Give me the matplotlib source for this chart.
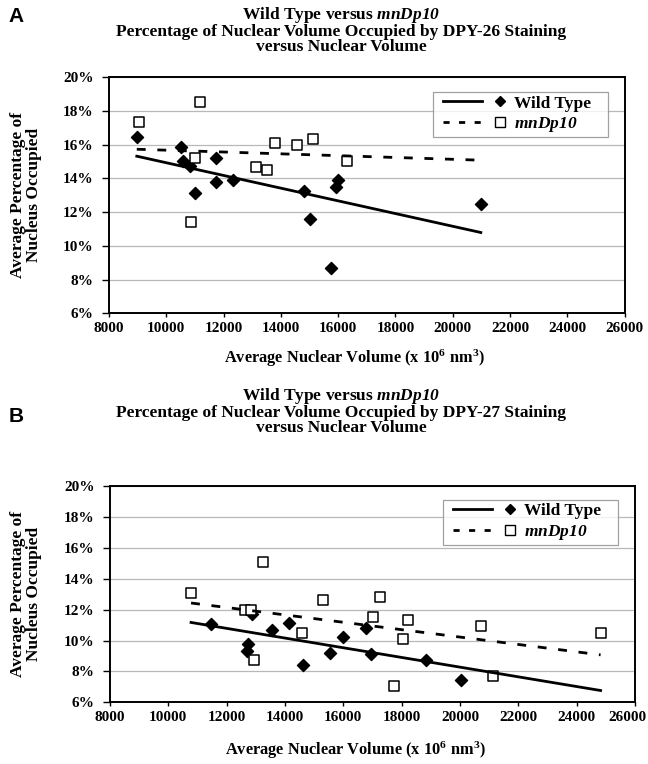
import numpy as np
import matplotlib
matplotlib.use("Agg")
import matplotlib.pyplot as plt
from matplotlib.lines import Line2D
from matplotlib.legend_handler import HandlerLine2D
from matplotlib.ticker import FuncFormatter, MultipleLocator
from matplotlib.transforms import ScaledTranslation

plt.rcParams["font.family"] = ["Liberation Serif", "DejaVu Serif"]
plt.rcParams["font.weight"] = "bold"
plt.rcParams["axes.labelweight"] = "bold"
plt.rcParams["mathtext.fontset"] = "custom"
plt.rcParams["mathtext.rm"] = "Liberation Serif:bold"
plt.rcParams["mathtext.it"] = "Liberation Serif:italic:bold"
plt.rcParams["mathtext.bf"] = "Liberation Serif:bold"
# \mathsf is used for the strain name so that its digits stay italic too
plt.rcParams["mathtext.sf"] = "Liberation Serif:italic:bold"

# ---- Panel A: DPY-26 staining ----
a_wt_volume = [8970, 10500, 10580, 10830, 11000, 11750, 11750, 12330,
               14810, 15000, 15740, 15930, 16010, 20980]
a_wt_percent = [16.45, 15.85, 15.0, 14.75, 13.1, 15.2, 13.8, 13.9,
                13.25, 11.6, 8.7, 13.5, 13.9, 12.5]
a_dp_volume = [9030, 11180, 11010, 10870, 13120, 13530, 13800, 14580,
               15130, 16320]
a_dp_percent = [17.35, 18.5, 15.2, 11.4, 14.65, 14.5, 16.1, 16.0,
                16.35, 15.05]

# ---- Panel B: DPY-27 staining ----
b_wt_volume = [11455, 12727, 12692, 12884, 13557, 14129, 14610, 15526,
               15984, 16790, 16961, 18834, 20036]
b_wt_percent = [11.1, 9.8, 9.3, 11.7, 10.65, 11.15, 8.4, 9.2,
                10.2, 10.8, 9.1, 8.75, 7.45]
b_dp_volume = [10779, 13234, 12631, 12837, 12940, 14598, 15297, 17272,
               17008, 18209, 18038, 17729, 20710, 21140, 24820]
b_dp_percent = [13.1, 15.05, 11.95, 12.0, 8.75, 10.5, 12.6, 12.8,
                11.55, 11.35, 10.1, 7.05, 10.95, 7.7, 10.5]

series_labels = ["Wild Type   ", r"$\mathsf{mnDp10}$"]
x_ticks = list(range(8000, 26001, 2000))
y_range = (6, 20)


class HandlerLineThenMarker(HandlerLine2D):
    """Legend key: a line segment followed by the marker on its right."""

    def create_artists(self, legend, orig_handle, xdescent, ydescent,
                       width, height, fontsize, trans):
        y = height / 2.0 - ydescent
        seg = Line2D([-xdescent + 0.10 * width, -xdescent + 0.68 * width],
                     [y, y])
        self.update_prop(seg, orig_handle, legend)
        seg.set_marker("None")
        mk = Line2D([-xdescent + 0.94 * width], [y])
        self.update_prop(mk, orig_handle, legend)
        mk.set_linestyle("None")
        seg.set_transform(trans)
        mk.set_transform(trans)
        return [seg, mk]


def draw_panel(ax, wt_x, wt_y, dp_x, dp_y):
    wt_x, wt_y = np.asarray(wt_x, float), np.asarray(wt_y, float)
    dp_x, dp_y = np.asarray(dp_x, float), np.asarray(dp_y, float)
    lo = min(wt_x.min(), dp_x.min())
    hi = max(wt_x.max(), dp_x.max())
    xs = np.array([lo, hi])

    ax.scatter(wt_x, wt_y, marker="D", s=38, color="black", zorder=3)
    ax.scatter(dp_x, dp_y, marker="s", s=46, facecolor="white",
               edgecolor="black", linewidth=1.1, zorder=4)

    # least-squares trend lines over the shared volume range
    k1, b1 = np.polyfit(wt_x, wt_y, 1)
    k2, b2 = np.polyfit(dp_x, dp_y, 1)
    ax.plot(xs, k1 * xs + b1, color="black", lw=2.0, zorder=5)
    ax.plot(xs, k2 * xs + b2, color="black", lw=2.0,
            dashes=(3.2, 4.2), zorder=5)

    ax.set_xlim(8000, 26000)
    ax.set_ylim(*y_range)
    ax.set_xticks(x_ticks)
    ax.yaxis.set_major_locator(MultipleLocator(2))
    ax.yaxis.set_major_formatter(FuncFormatter(lambda v, p: f"{v:.0f}%"))
    ax.grid(axis="y", color="#b8b8b8", lw=0.9)
    ax.set_axisbelow(True)
    for sp in ax.spines.values():
        sp.set_linewidth(1.4)
        sp.set_color("black")
    ax.tick_params(axis="y", direction="out", length=5, width=1.0,
                   pad=6, labelsize=11)
    ax.tick_params(axis="x", direction="out", length=3, width=1.0,
                   pad=3, labelsize=11)

    ax.set_ylabel("Average Percentage of\nNucleus Occupied", fontsize=12.5,
                  fontweight="bold", linespacing=1.0)
    ax.set_xlabel(r"Average Nuclear Volume (x $\mathrm{10^{6}\ nm^{3}}$)",
                  fontsize=11.8, fontweight="bold")

    handles = [
        Line2D([], [], color="black", lw=2.0, marker="D", markersize=5.5,
               markerfacecolor="black", markeredgecolor="black"),
        Line2D([], [], color="black", lw=2.0, dashes=(2.2, 3.4), marker="s",
               markersize=6.5, markerfacecolor="white",
               markeredgecolor="black", markeredgewidth=1.0),
    ]
    leg = ax.legend(handles, series_labels, loc="upper right",
                    bbox_to_anchor=(0.968, 0.937), borderaxespad=0,
                    prop={"size": 12.5, "weight": "bold"},
                    frameon=True, fancybox=False,
                    handlelength=3.9, handletextpad=0.6, labelspacing=0.2,
                    borderpad=0.2,
                    handler_map={Line2D: HandlerLineThenMarker()})
    leg.get_frame().set_edgecolor("#8a8a8a")
    leg.get_frame().set_linewidth(0.9)
    return ax


fig = plt.figure(figsize=(6.48, 7.64), dpi=100)
W, H = 648.0, 764.0

ax_a = fig.add_axes([109 / W, 1 - 313.3 / H, (624.6 - 109) / W, (313.3 - 77) / H])
draw_panel(ax_a, a_wt_volume, a_wt_percent, a_dp_volume, a_dp_percent)
ax_a.xaxis.set_label_coords((354 - 109) / 515.6, -(358 - 313.3) / 236.3)
ax_a.xaxis.label.set_va("center")
ax_a.yaxis.set_label_coords((26 - 109) / 515.6, 0.5)
ax_a.yaxis.label.set_va("center")

ax_b = fig.add_axes([110 / W, 1 - 702.3 / H, (635 - 110) / W, (702.3 - 486) / H])
draw_panel(ax_b, b_wt_volume, b_wt_percent, b_dp_volume, b_dp_percent)
ax_b.xaxis.set_label_coords((355 - 110) / 525.0, -(750 - 702.3) / 216.3)
ax_b.xaxis.label.set_va("center")
ax_b.yaxis.set_label_coords((26 - 110) / 525.0, 0.5)
ax_b.yaxis.label.set_va("center")

# keep the last x tick label of the lower panel inside the figure
last = ax_b.get_xticklabels()[-1]
last.set_transform(last.get_transform()
                   + ScaledTranslation(-0.08, 0, fig.dpi_scale_trans))

title_a = ("Wild Type versus $\\mathsf{mnDp10}$\n"
           "Percentage of Nuclear Volume Occupied by DPY-26 Staining\n"
           "versus Nuclear Volume")
title_b = ("Wild Type versus $\\mathsf{mnDp10}$\n"
           "Percentage of Nuclear Volume Occupied by DPY-27 Staining\n"
           "versus Nuclear Volume")
fig.text(341 / W, 1 - 30 / H, title_a, ha="center", va="center",
         fontsize=12.5, linespacing=0.92, multialignment="center")
fig.text(341 / W, 1 - 411 / H, title_b, ha="center", va="center",
         fontsize=12.5, linespacing=0.92, multialignment="center")

fig.text(16 / W, 1 - 17 / H, "A", ha="center", va="center",
         fontsize=15, fontweight="bold", family="Liberation Sans")
fig.text(16 / W, 1 - 416 / H, "B", ha="center", va="center",
         fontsize=15, fontweight="bold", family="Liberation Sans")

fig.savefig("out.png", dpi=100, facecolor="white")
